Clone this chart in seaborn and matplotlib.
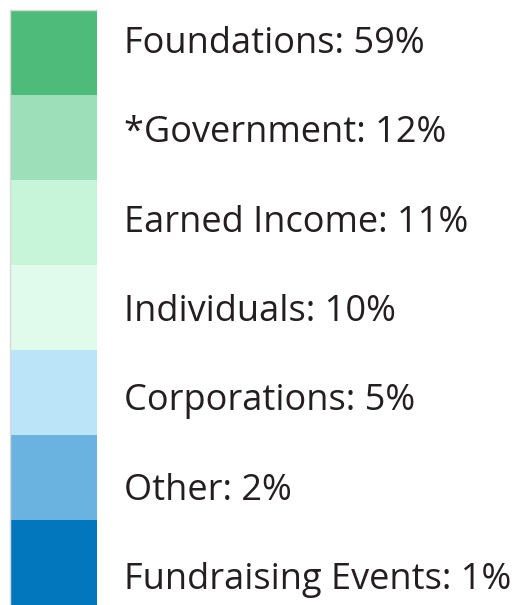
import matplotlib
matplotlib.use("Agg")
import matplotlib.pyplot as plt
import pandas as pd
import seaborn as sns

# Funding sources (legend style chart)
categories = ["Foundations", "*Government", "Earned Income", "Individuals",
              "Corporations", "Other", "Fundraising Events"]
percents = [59, 12, 11, 10, 5, 2, 1]
colors = ["#4ebb7a", "#9cdfb9", "#c7f5da", "#e0faec",
          "#bbe4f8", "#6ab2df", "#0377bd"]

df = pd.DataFrame({"category": categories, "pct": percents, "block": 1})

sns.set_style("white")
plt.rcParams["font.family"] = ["Open Sans", "DejaVu Sans"]

fig = plt.figure(figsize=(5.12, 6.05), dpi=100)
W, H = 512, 605

# colour blocks, all the same height
ax = fig.add_axes([10 / W, 0, 87 / W, (H - 9.6) / H])
sns.barplot(data=df, y="category", x="block", hue="category",
            palette=colors, saturation=1, width=1.0, orient="h",
            legend=False, linewidth=0, ax=ax)
ax.set_xlim(0, 1)
ax.set_ylim(len(categories) - 0.5, -0.5)
ax.set_axis_off()
# thin light frame on top / left
ax.plot([0, 0], [len(categories) - 0.5, -0.5], color="#d9d9d9", lw=1, clip_on=False)
ax.plot([0, 1], [-0.5, -0.5], color="#d9d9d9", lw=1, clip_on=False)

# labels
for i, (cat, p) in enumerate(zip(categories, percents)):
    y_px = 53 + 89.3 * i
    fig.text(124 / W, 1 - y_px / H, f"{cat}: {p}%", fontsize=26,
             color="#231f20", va="baseline", ha="left")

fig.savefig("out.png", dpi=100, facecolor="white")
